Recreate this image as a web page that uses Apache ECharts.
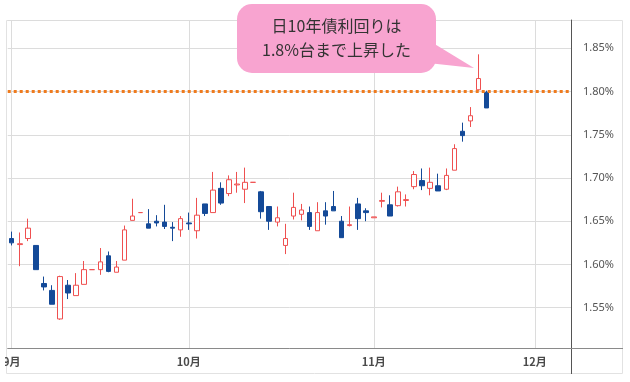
<!DOCTYPE html>
<html>
<head>
<meta charset="utf-8">
<script src="https://cdn.jsdelivr.net/npm/echarts@6/dist/echarts.min.js"></script>
<style>
html,body{margin:0;padding:0;background:#fff;}
#chart{width:630px;height:382px;}
</style>
</head>
<body>
<div id="chart"></div>
<script>
// Trading-day categories (weekdays), Sept 1 – Dec 5, 2025
const categories = [
  '2025-09-01','2025-09-02','2025-09-03','2025-09-04','2025-09-05','2025-09-08','2025-09-09','2025-09-10','2025-09-11','2025-09-12',
  '2025-09-15','2025-09-16','2025-09-17','2025-09-18','2025-09-19','2025-09-22','2025-09-23','2025-09-24','2025-09-25','2025-09-26',
  '2025-09-29','2025-09-30',
  '2025-10-01','2025-10-02','2025-10-03','2025-10-06','2025-10-07','2025-10-08','2025-10-09','2025-10-10','2025-10-13','2025-10-14',
  '2025-10-15','2025-10-16','2025-10-17','2025-10-20','2025-10-21','2025-10-22','2025-10-23','2025-10-24','2025-10-27','2025-10-28',
  '2025-10-29','2025-10-30','2025-10-31',
  '2025-11-03','2025-11-04','2025-11-05','2025-11-06','2025-11-07','2025-11-10','2025-11-11','2025-11-12','2025-11-13','2025-11-14',
  '2025-11-17','2025-11-18','2025-11-19','2025-11-20','2025-11-21','2025-11-24','2025-11-25','2025-11-26','2025-11-27','2025-11-28',
  '2025-12-01','2025-12-02','2025-12-03','2025-12-04','2025-12-05'
];

// Daily OHLC of the JGB 10-year yield (%)
const opens = [
  1.630,1.623,1.630,1.622,1.578,1.570,1.537,1.576,1.564,1.577,
  1.594,1.594,1.610,1.591,1.605,1.651,1.660,1.647,1.650,1.649,
  1.643,1.640,
  1.648,1.639,1.670,1.660,1.688,1.682,1.692,1.687,1.695,1.684,
  1.667,1.649,1.622,1.656,1.658,1.660,1.639,1.662,1.667,1.650,
  1.645,1.670,1.662,
  1.654,1.673,1.669,1.668,1.674,1.690,1.697,1.688,1.691,1.687,
  1.709,1.754,1.766,1.802,1.799
];
const closes = [
  1.625,1.624,1.642,1.594,1.574,1.554,1.586,1.567,1.576,1.594,
  1.594,1.603,1.592,1.597,1.640,1.656,1.660,1.642,1.648,1.644,
  1.642,1.653,
  1.647,1.657,1.659,1.686,1.671,1.698,1.693,1.695,1.695,1.661,
  1.650,1.654,1.630,1.666,1.663,1.644,1.660,1.656,1.662,1.631,
  1.646,1.653,1.660,
  1.655,1.674,1.656,1.684,1.675,1.704,1.691,1.695,1.685,1.703,
  1.734,1.749,1.772,1.815,1.781
];
const lows = [
  1.622,1.598,1.627,1.594,1.570,1.554,1.536,1.560,1.564,1.577,
  1.594,1.588,1.591,1.591,1.605,1.651,1.660,1.642,1.644,1.641,
  1.627,1.632,
  1.640,1.630,1.656,1.660,1.669,1.679,1.683,1.671,1.695,1.653,
  1.640,1.644,1.612,1.652,1.651,1.640,1.639,1.646,1.662,1.631,
  1.644,1.640,1.650,
  1.654,1.666,1.656,1.667,1.667,1.687,1.686,1.680,1.685,1.686,
  1.709,1.742,1.759,1.801,1.781
];
const highs = [
  1.638,1.637,1.653,1.622,1.586,1.576,1.587,1.582,1.590,1.604,
  1.594,1.619,1.615,1.604,1.645,1.676,1.660,1.664,1.657,1.669,
  1.649,1.656,
  1.660,1.677,1.670,1.707,1.695,1.703,1.707,1.712,1.695,1.685,
  1.667,1.667,1.647,1.683,1.670,1.667,1.672,1.672,1.685,1.656,
  1.667,1.677,1.665,
  1.655,1.683,1.680,1.690,1.681,1.708,1.711,1.712,1.705,1.711,
  1.739,1.764,1.782,1.843,1.801
];

const yTicks = ['1.55%','1.60%','1.65%','1.70%','1.75%','1.80%','1.85%'];
const refLevel = 1.80;
const calloutLines = ['日10年債利回りは', '1.8%台まで上昇した'];

const ohlc = opens.map((o, i) => [o, closes[i], lows[i], highs[i]]);

const RED = '#ef5050';
const BLUE = '#144a98';

const chart = echarts.init(document.getElementById('chart'));

const isMonthStart = (idx) => idx === 0 || categories[idx].slice(5, 7) !== categories[idx - 1].slice(5, 7);

chart.setOption({
  animation: false,
  backgroundColor: '#fff',
  grid: { left: 7, right: 59, top: 20, bottom: 34 },
  xAxis: {
    type: 'category',
    data: categories,
    boundaryGap: true,
    axisLine: { show: true, lineStyle: { color: '#8a8a8a', width: 1 } },
    axisTick: { show: false },
    axisLabel: {
      interval: (idx) => isMonthStart(idx),
      formatter: (v) => parseInt(v.slice(5, 7), 10) + '月',
      color: '#4a4a4a',
      fontSize: 11,
      fontWeight: 'bold',
      fontFamily: 'Noto Sans CJK JP',
      margin: 8
    },
    splitLine: {
      show: true,
      alignWithLabel: true,
      interval: (idx) => isMonthStart(idx),
      lineStyle: { color: '#dcdcdc', width: 1 }
    }
  },
  yAxis: {
    type: 'value',
    position: 'right',
    min: 1.5034,
    max: 1.8827,
    splitNumber: 7,
    axisLine: { show: true, lineStyle: { color: '#555', width: 1 } },
    axisTick: { show: false },
    axisLabel: {
      showMinLabel: false,
      showMaxLabel: false,
      formatter: (v) => {
        const s = v.toFixed(2) + '%';
        return yTicks.indexOf(s) >= 0 ? s : '';
      },
      color: '#555',
      fontSize: 11,
      fontFamily: 'Noto Sans',
      margin: 12
    },
    splitLine: { show: true, lineStyle: { color: '#dcdcdc', width: 1 } }
  },
  series: [{
    type: 'candlestick',
    data: ohlc,
    barWidth: 5,
    itemStyle: {
      color: '#ffffff',
      color0: BLUE,
      borderColor: RED,
      borderColor0: BLUE,
      borderWidth: 1
    },
    markLine: {
      silent: true,
      symbol: ['none', 'none'],
      label: { show: false },
      lineStyle: { color: '#ef7b1e', width: 3, type: [3, 3] },
      data: [{ yAxis: refLevel }]
    }
  }],
  graphic: [
    { type: 'rect', z: 0, silent: true,
      shape: { x: 6.5, y: 20.5, width: 616, height: 353 },
      style: { fill: 'none', stroke: '#e2e2e2', lineWidth: 1 } },
    { type: 'line', z: 50, silent: true,
      shape: { x1: 571.5, y1: 348, x2: 571.5, y2: 374 },
      style: { stroke: '#555', lineWidth: 1 } },
    { type: 'line', z: 50, silent: true,
      shape: { x1: 571, y1: 348.5, x2: 623, y2: 348.5 },
      style: { stroke: '#8a8a8a', lineWidth: 1 } },
    { type: 'rect', z: 60, silent: true,
      shape: { x: 0, y: 340, width: 5, height: 42 },
      style: { fill: '#fff' } },
    { type: 'polygon', z: 100, silent: true,
      shape: { points: [[428, 40], [474, 68], [428, 63]] },
      style: { fill: '#f8a4d0' } },
    { type: 'rect', z: 100, silent: true,
      shape: { x: 237, y: 4, width: 199, height: 69, r: 15 },
      style: { fill: '#f8a4d0' } },
    { type: 'text', z: 101, silent: true,
      style: {
        x: 336.5, y: 38,
        text: calloutLines.join('\n'),
        align: 'center', verticalAlign: 'middle',
        fill: '#333', fontSize: 16, lineHeight: 24,
        fontFamily: 'Noto Sans CJK JP'
      } }
  ]
});
</script>
</body>
</html>
